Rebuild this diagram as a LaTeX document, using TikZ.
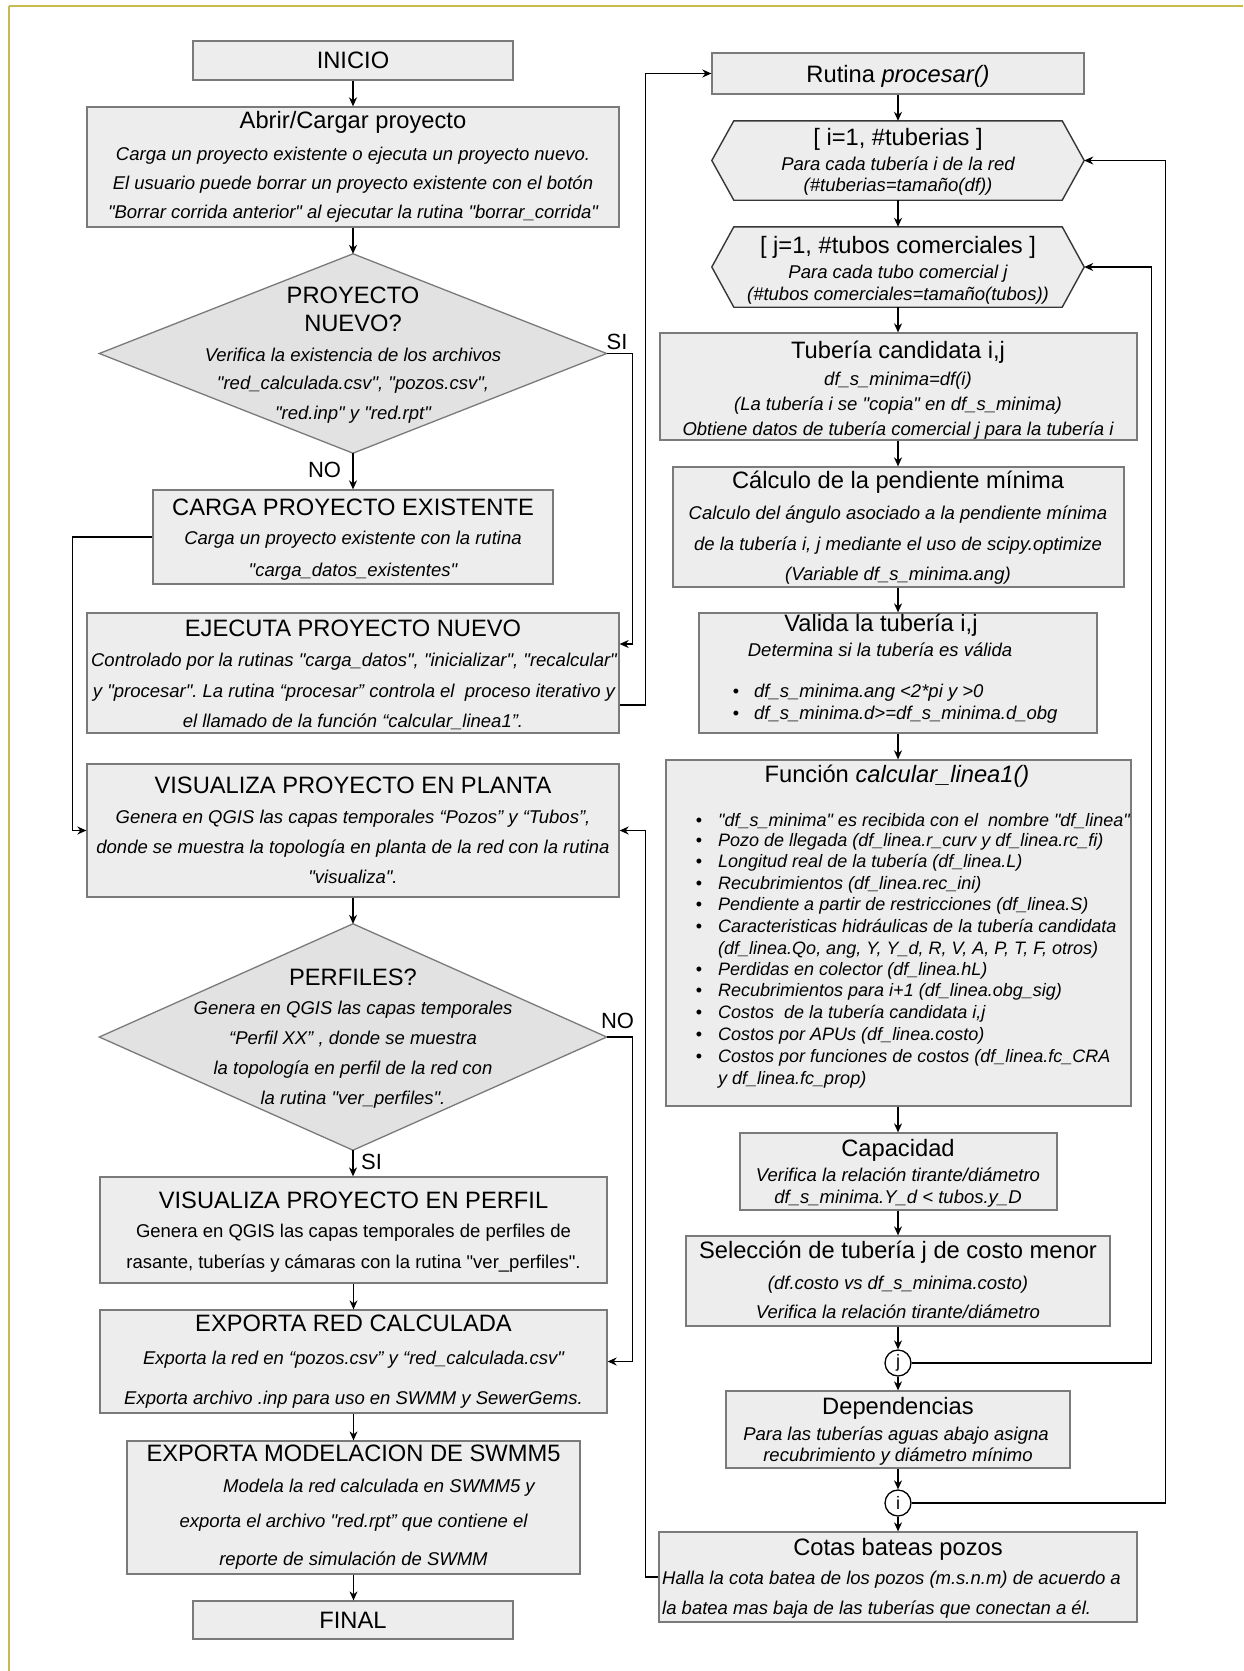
\documentclass[tikz,border=0pt]{standalone}
\usepackage{fontspec}
\setmainfont{Liberation Sans}[Ligatures=TeXOff]
\frenchspacing
\usetikzlibrary{arrows.meta,calc}
\definecolor{boxc}{RGB}{237,237,237}
\definecolor{diac}{RGB}{226,226,226}
\definecolor{bordc}{RGB}{122,122,122}
\definecolor{hexb}{RGB}{55,55,55}
\definecolor{framec}{RGB}{200,186,80}
\begin{document}
\begin{tikzpicture}[x=1pt,y=-1pt,
  box/.style={draw=bordc, fill=boxc, line width=1.3pt, inner sep=0pt, rectangle},
  ghost/.style={draw=none, inner sep=0pt, rectangle},
  diast/.style={draw=bordc, fill=diac, line width=1.3pt},
  hexst/.style={draw=hexb, fill=boxc, line width=1.4pt},
  arr/.style={draw=black, line width=1.3pt, -{Stealth[length=9pt,width=8pt]}},
  ttl/.style={font=\fontsize{23.7}{28}\selectfont, inner sep=0pt, text height=17pt, text depth=0pt},
  bod/.style={font=\fontsize{18.5}{22}\selectfont\itshape, inner sep=0pt, text height=13.3pt, text depth=0pt},
  rom/.style={font=\fontsize{18.5}{22}\selectfont, inner sep=0pt, text height=13.3pt, text depth=0pt},
  bul/.style={font=\fontsize{18}{22}\selectfont\itshape, inner sep=0pt, text height=12.9pt, text depth=0pt, anchor=west},
  bdot/.style={font=\fontsize{18}{22}\selectfont, inner sep=0pt, text height=12.9pt, text depth=0pt, anchor=center},
  lab/.style={font=\fontsize{22}{26}\selectfont, inner sep=0pt, text height=15.8pt, text depth=0pt},
  circ/.style={draw=black, fill=white, line width=1.3pt, circle, minimum size=26pt, inner sep=0pt, font=\fontsize{18}{22}\selectfont}
]
\useasboundingbox (0,0) rectangle (1243,1671);
\fill[white] (0,0) rectangle (1243,1671);
\draw[framec, line width=2pt] (9,6) -- (1243,6);
\draw[framec, line width=1.5pt] (9,6) -- (9,1671);

% ---------- left column shapes ----------
\node[box, minimum width=320, minimum height=39] (inicio) at (353,60.5) {};
\node[box, minimum width=532, minimum height=120] (abrir) at (353,167) {};
\node[ghost, minimum width=507, minimum height=199] (d1) at (353,353.5) {};
\draw[diast] (d1.north) -- (d1.east) -- (d1.south) -- (d1.west) -- cycle;
\node[box, minimum width=400, minimum height=94] (carga) at (353,537) {};
\node[box, minimum width=532, minimum height=120] (ejec) at (353,673) {};
\node[box, minimum width=532, minimum height=133] (visp) at (353,830.5) {};
\node[ghost, minimum width=507, minimum height=226] (d2) at (353,1037) {};
\draw[diast] (d2.north) -- (d2.east) -- (d2.south) -- (d2.west) -- cycle;
\node[box, minimum width=507, minimum height=106] (visf) at (353.5,1230) {};
\node[box, minimum width=507, minimum height=103] (expr) at (353.5,1361.5) {};
\node[box, minimum width=453, minimum height=133] (swmm) at (353.5,1507.5) {};
\node[box, minimum width=320, minimum height=38] (final) at (353,1620) {};

% ---------- right column shapes ----------
\node[box, minimum width=372, minimum height=41] (rut) at (898,73.5) {};
\node[ghost, minimum width=372, minimum height=79] (h1) at (898,160.5) {};
\draw[hexst] ([xshift=22pt]h1.north west) -- ([xshift=-22pt]h1.north east) -- (h1.east) -- ([xshift=-22pt]h1.south east) -- ([xshift=22pt]h1.south west) -- (h1.west) -- cycle;
\node[ghost, minimum width=372, minimum height=80] (h2) at (898,267) {};
\draw[hexst] ([xshift=22pt]h2.north west) -- ([xshift=-22pt]h2.north east) -- (h2.east) -- ([xshift=-22pt]h2.south east) -- ([xshift=22pt]h2.south west) -- (h2.west) -- cycle;
\node[box, minimum width=477, minimum height=107] (cand) at (898.5,386.5) {};
\node[box, minimum width=451, minimum height=120] (calc) at (898.5,527) {};
\node[box, minimum width=398, minimum height=120] (val) at (898,673) {};
\node[box, minimum width=465, minimum height=346] (func) at (898.5,933) {};
\node[box, minimum width=317, minimum height=77] (cap) at (898.5,1171.5) {};
\node[box, minimum width=424, minimum height=90] (sel) at (898,1281) {};
\node[circ] (cj) at (898,1363) {j};
\node[box, minimum width=344, minimum height=77] (dep) at (898,1429.5) {};
\node[circ] (ci) at (898,1503) {i};
\node[box, minimum width=478, minimum height=90] (cot) at (898,1577) {};

% ---------- connectors ----------
\draw[arr] (inicio.south) -- (inicio.south |- abrir.north);
\draw[arr] (abrir.south) -- (abrir.south |- d1.north);
\draw[arr] (d1.south) -- (d1.south |- carga.north);
\draw[arr] (d1.east) -- ++(26,0) |- ([yshift=29pt]ejec.east);
\draw[arr] (carga.west) -- ++(-80,0) |- (visp.west);
\draw[arr] ([yshift=-32pt]ejec.east) -| ([xshift=-66pt]rut.west) -- (rut.west);
\draw[arr] (cot.west) -- ++(-13,0) |- (visp.east);
\draw[arr] (visp.south) -- (visp.south |- d2.north);
\draw[arr] (d2.south) -- (d2.south |- visf.north);
\draw[arr] (d2.east) -- ++(26,0) |- (expr.east);
\draw[arr] (visf.south) -- (visf.south |- expr.north);
\draw[arr] (expr.south) -- (expr.south |- swmm.north);
\draw[arr] (swmm.south) -- (swmm.south |- final.north);

\draw[arr] (rut.south) -- (rut.south |- h1.north);
\draw[arr] (h1.south) -- (h1.south |- h2.north);
\draw[arr] (h2.south) -- (h2.south |- cand.north);
\draw[arr] (h2.south |- cand.south) -- (h2.south |- calc.north);
\draw[arr] (h2.south |- calc.south) -- (h2.south |- val.north);
\draw[arr] (val.south) -- (val.south |- func.north);
\draw[arr] (val.south |- func.south) -- (val.south |- cap.north);
\draw[arr] (val.south |- cap.south) -- (val.south |- sel.north);
\draw[arr] (sel.south) -- (sel.south |- cj.north);
\draw[arr] (cj.south) -- (cj.south |- dep.north);
\draw[arr] (dep.south) -- (dep.south |- ci.north);
\draw[arr] (ci.south) -- (ci.south |- cot.north);
\draw[arr] (cj.east) -| ([xshift=67pt]h2.east) -- (h2.east);
\draw[arr] (ci.east) -| ([xshift=81pt]h1.east) -- (h1.east);

% ---------- labels ----------
\node[lab] (si1) at (617,342) {SI};
\node[lab] (no1) at (324.5,470) {NO};
\node[lab] (no2) at (617.5,1020.5) {NO};
\node[lab] (si2) at (371.5,1162) {SI};

% ---------- left column texts ----------
\node[ttl] (inicio-t) at (353,60) {INICIO};
\node[ttl] (abrir-t) at (353,120) {Abrir/Cargar proyecto};
\node[bod] (abrir-1) at (353,154) {Carga un proyecto existente o ejecuta un proyecto nuevo.};
\node[bod] (abrir-2) at (353,183) {El usuario puede borrar un proyecto existente con el botón};
\node[bod] (abrir-3) at (353,212) {"Borrar corrida anterior" al ejecutar la rutina "borrar\_corrida"};

\node[ttl] (d1-t1) at (353,295) {PROYECTO};
\node[ttl] (d1-t2) at (353,323) {NUEVO?};
\node[bod] (d1-1) at (353,355) {Verifica la existencia de los archivos};
\node[bod] (d1-2) at (353,383) {"red\_calculada.csv", "pozos.csv",};
\node[bod] (d1-3) at (353,413) {"red.inp" y "red.rpt"};

\node[ttl] (carga-t) at (353,506.5) {CARGA PROYECTO EXISTENTE};
\node[bod] (carga-1) at (353,538) {Carga un proyecto existente con la rutina};
\node[bod] (carga-2) at (353,570) {"carga\_datos\_existentes"};

\node[ttl] (ejec-t) at (353,628) {EJECUTA PROYECTO NUEVO};
\node[bod] (ejec-1) at (354,660) {Controlado por la rutinas "carga\_datos", "inicializar", "recalcular"};
\node[bod] (ejec-2) at (354,691) {y "procesar". La rutina “procesar” controla el\ \ proceso iterativo y};
\node[bod] (ejec-3) at (353,721) {el llamado de la función “calcular\_linea1”.};

\node[ttl] (visp-t) at (353,785) {VISUALIZA PROYECTO EN PLANTA};
\node[bod] (visp-1) at (353,817) {Genera en QGIS las capas temporales “Pozos” y “Tubos”,};
\node[bod] (visp-2) at (353,847) {donde se muestra la topología en planta de la red con la rutina};
\node[bod] (visp-3) at (353,877) {"visualiza".};

\node[ttl] (d2-t) at (353,977) {PERFILES?};
\node[bod] (d2-1) at (353,1008) {Genera en QGIS las capas temporales};
\node[bod] (d2-2) at (353,1038) {“Perfil XX” , donde se muestra};
\node[bod] (d2-3) at (353,1068) {la topología en perfil de la red con};
\node[bod] (d2-4) at (353,1098) {la rutina "ver\_perfiles".};

\node[ttl] (visf-t) at (353.5,1200) {VISUALIZA PROYECTO EN PERFIL};
\node[rom] (visf-1) at (353.5,1231) {Genera en QGIS las capas temporales de perfiles de};
\node[rom] (visf-2) at (353.5,1262) {rasante, tuberías y cámaras con la rutina "ver\_perfiles".};

\node[ttl] (expr-t) at (353.5,1323) {EXPORTA RED CALCULADA};
\node[bod] (expr-1) at (353.5,1358) {Exporta la red en “pozos.csv” y “red\_calculada.csv"};
\node[bod] (expr-2) at (353.5,1398) {Exporta archivo .inp para uso en SWMM y SewerGems.};

\node[ttl] (swmm-t) at (353.5,1453) {EXPORTA MODELACION DE SWMM5};
\node[bod] (swmm-1) at (379,1486) {Modela la red calculada en SWMM5 y};
\node[bod] (swmm-2) at (353.5,1521) {exporta el archivo "red.rpt” que contiene el};
\node[bod] (swmm-3) at (353.5,1559) {reporte de simulación de SWMM};

\node[ttl] (final-t) at (353,1620) {FINAL};

% ---------- right column texts ----------
\node[ttl] (rut-t) at (898,73.5) {Rutina \textit{procesar()}};
\node[ttl] (h1-t) at (898,137) {[ i=1, \#tuberias ]};
\node[bod] (h1-1) at (898,164) {Para cada tubería i de la red};
\node[bod] (h1-2) at (898,185) {(\#tuberias=tamaño(df))};
\node[ttl] (h2-t) at (898,245) {[ j=1, \#tubos comerciales ]};
\node[bod] (h2-1) at (898,272) {Para cada tubo comercial j};
\node[bod] (h2-2) at (898,294) {(\#tubos comerciales=tamaño(tubos))};

\node[ttl] (cand-t) at (898,350) {Tubería candidata i,j};
\node[bod] (cand-1) at (898,379) {df\_s\_minima=df(i)};
\node[bod] (cand-2) at (898,404) {(La tubería i se "copia" en df\_s\_minima)};
\node[bod] (cand-3) at (898,429) {Obtiene datos de tubería comercial j para la tubería i};

\node[ttl] (calc-t) at (898,480) {Cálculo de la pendiente mínima};
\node[bod] (calc-1) at (898,513) {Calculo del ángulo asociado a la pendiente mínima};
\node[bod] (calc-2) at (898,544) {de la tubería i, j mediante el uso de scipy.optimize};
\node[bod] (calc-3) at (898,574) {(Variable df\_s\_minima.ang)};

\node[ttl] (val-t) at (881,623) {Valida la tubería i,j};
\node[bod] (val-1) at (880,650) {Determina si la tubería es válida};
\node[bdot] (vd1) at (736,691) {•};
\node[bul, font=\fontsize{18.5}{22}\selectfont\itshape] (vb1) at (754,691) {df\_s\_minima.ang <2*pi y >0};
\node[bdot] (vd2) at (736,713) {•};
\node[bul, font=\fontsize{18.5}{22}\selectfont\itshape] (vb2) at (754,713) {df\_s\_minima.d>=df\_s\_minima.d\_obg};

\node[ttl] (func-t) at (897,774) {Función \textit{calcular\_linea1()}};
\node[bdot] (fd1) at (699,820) {•};
\node[bul] (fb1) at (718,820) {"df\_s\_minima" es recibida con el\ \ nombre "df\_linea"};
\node[bdot] (fd2) at (699,840.5) {•};
\node[bul] (fb2) at (718,840.5) {Pozo de llegada (df\_linea.r\_curv y df\_linea.rc\_fi)};
\node[bdot] (fd3) at (699,861) {•};
\node[bul] (fb3) at (718,861) {Longitud real de la tubería (df\_linea.L)};
\node[bdot] (fd4) at (699,883) {•};
\node[bul] (fb4) at (718,883) {Recubrimientos (df\_linea.rec\_ini)};
\node[bdot] (fd5) at (699,904) {•};
\node[bul] (fb5) at (718,904) {Pendiente a partir de restricciones (df\_linea.S)};
\node[bdot] (fd6) at (699,926.5) {•};
\node[bul] (fb6) at (718,926.5) {Caracteristicas hidráulicas de la tubería candidata};
\node[bul] (fb6b) at (718,948) {(df\_linea.Qo, ang, Y, Y\_d, R, V, A, P, T, F, otros)};
\node[bdot] (fd7) at (699,969) {•};
\node[bul] (fb7) at (718,969) {Perdidas en colector (df\_linea.hL)};
\node[bdot] (fd8) at (699,990) {•};
\node[bul] (fb8) at (718,990) {Recubrimientos para i+1 (df\_linea.obg\_sig)};
\node[bdot] (fd9) at (699,1012) {•};
\node[bul] (fb9) at (718,1012) {Costos\ \ de la tubería candidata i,j};
\node[bdot] (fd10) at (699,1034) {•};
\node[bul] (fb10) at (718,1034) {Costos por APUs (df\_linea.costo)};
\node[bdot] (fd11) at (699,1056) {•};
\node[bul] (fb11) at (718,1056) {Costos por funciones de costos (df\_linea.fc\_CRA};
\node[bul] (fb11b) at (718,1078) {y df\_linea.fc\_prop)};

\node[ttl] (cap-t) at (898,1148) {Capacidad};
\node[bod] (cap-1) at (898,1175) {Verifica la relación tirante/diámetro};
\node[bod] (cap-2) at (898,1197) {df\_s\_minima.Y\_d < tubos.y\_D};

\node[ttl] (sel-t) at (898,1250) {Selección de tubería j de costo menor};
\node[bod] (sel-1) at (898,1283) {(df.costo vs df\_s\_minima.costo)};
\node[bod] (sel-2) at (898,1312) {Verifica la relación tirante/diámetro};

\node[ttl] (dep-t) at (898,1406) {Dependencias};
\node[bod] (dep-1) at (896,1434) {Para las tuberías aguas abajo asigna};
\node[bod] (dep-2) at (898,1455) {recubrimiento y diámetro mínimo};

\node[ttl] (cot-t) at (898,1547) {Cotas bateas pozos};
\node[bod, anchor=west] (cot-1) at (662,1578) {Halla la cota batea de los pozos (m.s.n.m) de acuerdo a};
\node[bod, anchor=west] (cot-2) at (662,1608) {la batea mas baja de las tuberías que conectan a él.};
\end{tikzpicture}
\end{document}
